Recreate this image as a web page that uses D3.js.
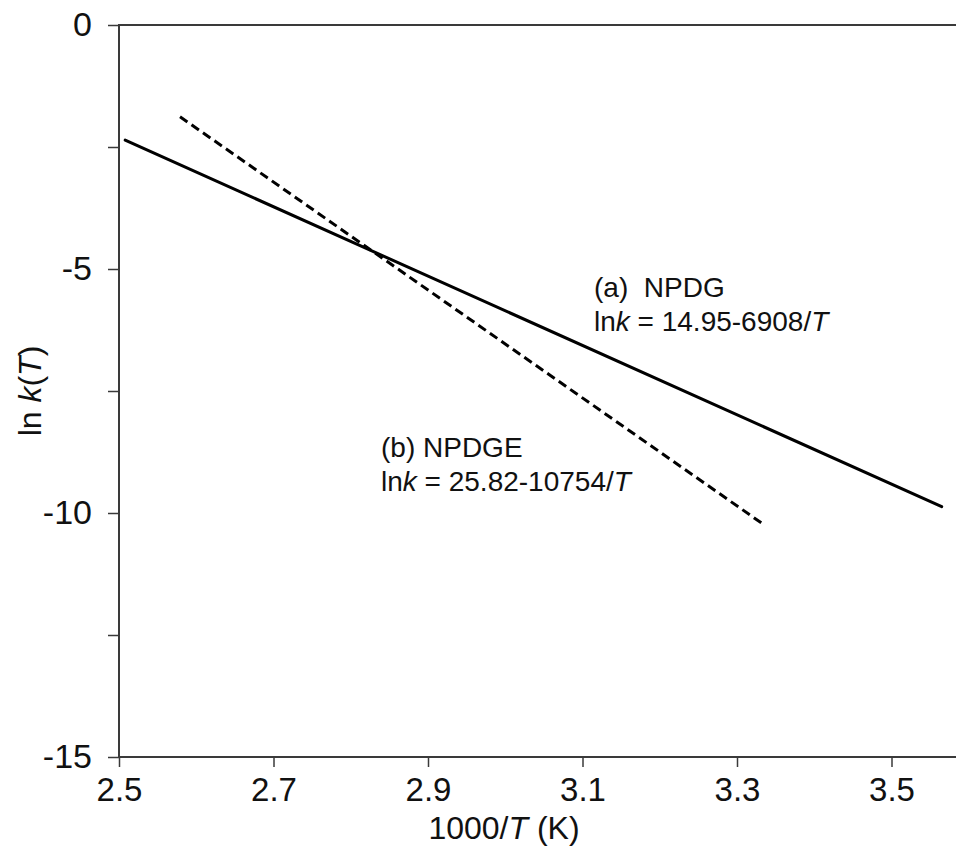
<!DOCTYPE html>
<html>
<head>
<meta charset="utf-8">
<script src="https://cdn.jsdelivr.net/npm/d3@7"></script>
<style>
  html, body { margin: 0; padding: 0; background: #fff; }
  svg { display: block; font-family: "Liberation Sans", Arial, Helvetica, sans-serif; }
</style>
</head>
<body>
<svg id="chart" width="956" height="847"></svg>
<script>
// ---- data ----
const xTicks = [2.5, 2.7, 2.9, 3.1, 3.3, 3.5];
const yTicks = [0, -2.5, -5, -7.5, -10, -12.5, -15];
const yLabelled = [0, -5, -10, -15];
const npdgX = [2.508, 3.565];
const npdgY = [-2.36, -9.87];
const npdgeX = [2.579, 3.334];
const npdgeY = [-1.88, -10.23];

(function () {
const svg = d3.select("#chart");
const mL = 119, mT = 25, mB = 757, mR = 968.75;
const x = d3.scaleLinear().domain([2.5, 3.6]).range([mL, mR]);
const y = d3.scaleLinear().domain([-15, 0]).range([mB, mT]);

const axisColor = "#3a3a3a";
const ff = "Liberation Sans, Arial, sans-serif";

// frame
svg.append("rect")
  .attr("x", mL).attr("y", mT)
  .attr("width", mR - mL).attr("height", mB - mT)
  .attr("fill", "none").attr("stroke", axisColor).attr("stroke-width", 2);

// x axis
const xAxis = d3.axisBottom(x).tickValues(xTicks).tickSize(10).tickPadding(11)
  .tickFormat(d3.format(".1f"));
const gx = svg.append("g").attr("transform", `translate(0,${mB})`).call(xAxis);
gx.select(".domain").remove();
gx.selectAll(".tick line").attr("stroke", axisColor).attr("stroke-width", 1.5);
gx.selectAll(".tick text").attr("font-size", 33).attr("fill", "#111").attr("font-family", ff);

// y axis
const yAxis = d3.axisLeft(y).tickValues(yTicks).tickSize(11).tickPadding(16)
  .tickFormat(d => yLabelled.includes(d) ? String(d) : "");
const gy = svg.append("g").attr("transform", `translate(${mL},0)`).call(yAxis);
gy.select(".domain").remove();
gy.selectAll(".tick line").attr("stroke", axisColor).attr("stroke-width", 1.5);
gy.selectAll(".tick text").attr("font-size", 34).attr("fill", "#111").attr("font-family", ff);

// lines
const line = d3.line().x(d => x(d[0])).y(d => y(d[1]));
svg.append("path")
  .datum(d3.zip(npdgX, npdgY))
  .attr("d", line).attr("fill", "none")
  .attr("stroke", "#000").attr("stroke-width", 3).attr("stroke-linecap", "round");
svg.append("path")
  .datum(d3.zip(npdgeX, npdgeY))
  .attr("d", line).attr("fill", "none")
  .attr("stroke", "#000").attr("stroke-width", 3)
  .attr("stroke-dasharray", "9,5");

// annotations
function ann(xp, yp, label, eq) {
  const t = svg.append("text").attr("x", xp).attr("y", yp).attr("font-size", 28).attr("fill", "#111")
    .attr("xml:space", "preserve").style("white-space", "pre");
  t.text(label);
  const t2 = svg.append("text").attr("x", xp).attr("y", yp + 34).attr("font-size", 28).attr("fill", "#111");
  t2.append("tspan").text("ln");
  t2.append("tspan").attr("font-style", "italic").text("k");
  t2.append("tspan").text(" = " + eq + "/");
  t2.append("tspan").attr("font-style", "italic").text("T");
}
ann(594, 297, "(a)  NPDG", "14.95-6908");
ann(381, 457, "(b) NPDGE", "25.82-10754");

// axis titles
const xt = svg.append("text").attr("x", 504).attr("y", 839)
  .attr("text-anchor", "middle").attr("font-size", 32).attr("fill", "#111");
xt.append("tspan").text("1000/");
xt.append("tspan").attr("font-style", "italic").text("T");
xt.append("tspan").text(" (K)");

const yt = svg.append("text")
  .attr("transform", `translate(41,${(mT + mB) / 2}) rotate(-90)`)
  .attr("text-anchor", "middle").attr("font-size", 32).attr("fill", "#111");
yt.append("tspan").text("ln ");
yt.append("tspan").attr("font-style", "italic").text("k");
yt.append("tspan").text("(");
yt.append("tspan").attr("font-style", "italic").text("T");
yt.append("tspan").text(")");
})();
</script>
</body>
</html>
